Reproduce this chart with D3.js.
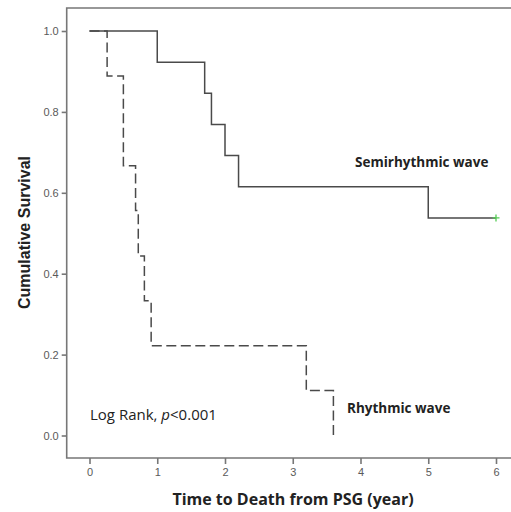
<!DOCTYPE html>
<html><head><meta charset="utf-8">
<script src="https://cdn.jsdelivr.net/npm/d3@7"></script>
<style>html,body{margin:0;padding:0;background:#fff;}svg{display:block;}</style>
</head><body>
<svg id="chart" width="511" height="512"></svg>
<script>
// ---- data ----
const semiTimes = [0, 1.0, 1.7, 1.8, 2.0, 2.2, 5.0, 6.0];
const semiSurv  = [1.0, 0.923, 0.846, 0.769, 0.692, 0.615, 0.538, 0.538];
const rhythTimes = [0, 0.26, 0.5, 0.68, 0.72, 0.81, 0.91, 3.2, 3.6];
const rhythSurv  = [1.0, 0.889, 0.667, 0.556, 0.444, 0.333, 0.222, 0.111, 0.0];
const censorTimes = [6.0];
const censorSurv = [0.538];
const xTicks = [0, 1, 2, 3, 4, 5, 6];
const yTicks = [0.0, 0.2, 0.4, 0.6, 0.8, 1.0];
const labelSemi = "Semirhythmic wave";
const labelRhyth = "Rhythmic wave";
const xTitle = "Time to Death from PSG (year)";
const yTitle = "Cumulative Survival";

// ---- layout ----
const svg = d3.select("#chart");
const frameL = 66.7, frameT = 8, frameB = 458, frameR = 511;
const x = d3.scaleLinear().domain([0, 6]).range([89.5, 496]);
const y = d3.scaleLinear().domain([0, 1]).range([435.5, 31]);
const axisColor = "#777";
const lineColor = "#4a4a4a";

// frame
svg.append("path")
  .attr("d", `M${frameR},${frameT}H${frameL}V${frameB}H${frameR}`)
  .attr("fill", "none").attr("stroke", axisColor).attr("stroke-width", 1.6);

// axes
const ya = svg.append("g").attr("transform", `translate(${frameL},0)`)
  .call(d3.axisLeft(y).tickValues(yTicks).tickFormat(d3.format(".1f")).tickSize(5).tickPadding(3));
const xa = svg.append("g").attr("transform", `translate(0,${frameB})`)
  .call(d3.axisBottom(x).tickValues(xTicks).tickFormat(d3.format("d")).tickSize(6).tickPadding(4));
[ya, xa].forEach(g => {
  g.select(".domain").remove();
  g.selectAll(".tick line").attr("stroke", axisColor).attr("stroke-width", 1.6);
  g.selectAll(".tick text").attr("fill", "#5a5a5a")
    .style("font-family", "'Liberation Sans', Arial, sans-serif").style("font-size", "11px");
});

// curves
const step = d3.line().x(d => x(d[0])).y(d => y(d[1])).curve(d3.curveStepAfter);
svg.append("path").datum(d3.zip(rhythTimes, rhythSurv))
  .attr("d", step).attr("fill", "none").attr("stroke", lineColor)
  .attr("stroke-width", 1.5).attr("stroke-dasharray", "10,4.5");
svg.append("path").datum(d3.zip(semiTimes, semiSurv))
  .attr("d", step).attr("fill", "none").attr("stroke", lineColor)
  .attr("stroke-width", 1.5);

// censor marks
d3.zip(censorTimes, censorSurv).forEach(d => {
  const cx = x(d[0]), cy = y(d[1]);
  svg.append("path").attr("d", `M${cx-3.5},${cy}H${cx+3.5}M${cx},${cy-3.5}V${cy+3.5}`)
    .attr("stroke", "#55cc55").attr("stroke-width", 1.3);
});

// labels
const lf = "'Open Sans', 'Noto Sans', sans-serif";
svg.append("text").attr("x", 355).attr("y", 167).text(labelSemi)
  .style("font-family", lf).style("font-weight", "700").style("font-size", "13.5px").attr("fill", "#222");
svg.append("text").attr("x", 347).attr("y", 413).text(labelRhyth)
  .style("font-family", lf).style("font-weight", "700").style("font-size", "13.5px").attr("fill", "#222");
const lr = svg.append("text").attr("x", 90).attr("y", 420)
  .style("font-family", lf).style("font-size", "15px").attr("fill", "#222");
lr.append("tspan").text("Log Rank, ");
lr.append("tspan").text("p").style("font-style", "italic");
lr.append("tspan").text("<0.001");

svg.append("text").attr("x", 293).attr("y", 505).attr("text-anchor", "middle").text(xTitle)
  .style("font-family", lf).style("font-weight", "700").style("font-size", "16px").attr("fill", "#222");
svg.append("text").attr("transform", "translate(30,232.5) rotate(-90)").attr("text-anchor", "middle").text(yTitle)
  .style("font-family", "'Liberation Sans', Arial, sans-serif").style("font-weight", "700").style("font-size", "16px").attr("fill", "#222");
</script>
</body></html>
